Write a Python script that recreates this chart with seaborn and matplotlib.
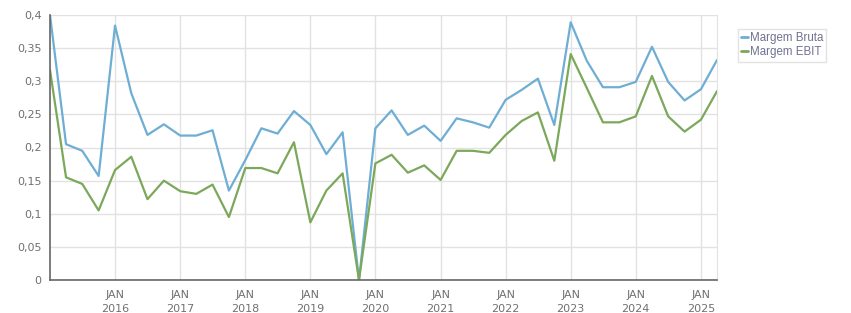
import matplotlib
matplotlib.use("Agg")
import matplotlib.pyplot as plt
import matplotlib.dates as mdates
from matplotlib.ticker import FuncFormatter, FixedLocator
import seaborn as sns
import pandas as pd

dates = pd.date_range("2015-01-01", periods=42, freq="QS")
year_ticks = pd.date_range("2016-01-01", "2025-01-01", freq="YS")

margem_bruta = [0.400, 0.205, 0.195, 0.157, 0.384, 0.282, 0.219, 0.235,
                0.218, 0.218, 0.226, 0.135, 0.181, 0.229, 0.221, 0.255,
                0.234, 0.190, 0.223, 0.000, 0.229, 0.256, 0.219, 0.233,
                0.210, 0.244, 0.238, 0.230, 0.272, 0.287, 0.304, 0.234,
                0.389, 0.331, 0.291, 0.291, 0.299, 0.352, 0.299, 0.271,
                0.288, 0.332]
margem_ebit = [0.317, 0.155, 0.145, 0.105, 0.166, 0.186, 0.122, 0.150,
               0.134, 0.130, 0.144, 0.095, 0.169, 0.169, 0.161, 0.208,
               0.087, 0.135, 0.161, 0.000, 0.176, 0.189, 0.162, 0.173,
               0.151, 0.195, 0.195, 0.192, 0.219, 0.240, 0.253, 0.180,
               0.341, 0.290, 0.238, 0.238, 0.247, 0.308, 0.247, 0.224,
               0.242, 0.285]
series_names = ["Margem Bruta", "Margem EBIT"]
colors = ["#6FAED4", "#7BA85B"]
y_ticks = [0, 0.05, 0.1, 0.15, 0.2, 0.25, 0.3, 0.35, 0.4]

df = pd.concat([
    pd.DataFrame({"date": dates, "value": margem_bruta, "serie": series_names[0]}),
    pd.DataFrame({"date": dates, "value": margem_ebit, "serie": series_names[1]}),
])

sns.set_style("white")
plt.rcParams["font.family"] = ["DejaVu Sans"]

fig = plt.figure(figsize=(8.51, 3.13), dpi=100)
ax = fig.add_axes([50/851, 33/313, 667/851, 265/313])

sns.lineplot(data=df, x="date", y="value", hue="serie", palette=colors,
             linewidth=1.6, ax=ax, legend=False)

ax.set_xlim(dates[0], dates[-1])
ax.set_ylim(0, 0.4)
ax.yaxis.set_major_locator(FixedLocator(y_ticks))

def yfmt(v, pos):
    s = ("%.2f" % v).rstrip("0").rstrip(".")
    return s.replace(".", ",")

ax.yaxis.set_major_formatter(FuncFormatter(yfmt))
ax.set_xticks(mdates.date2num(year_ticks))
ax.set_xticklabels(["JAN\n" + str(d.year) for d in year_ticks])

ax.grid(True, color="#e2e2e2", linewidth=1)
ax.set_axisbelow(True)
ax.set_xlabel("")
ax.set_ylabel("")
ax.spines["top"].set_visible(False)
ax.spines["right"].set_color("#e2e2e2")
ax.spines["left"].set_color("#666666")
ax.spines["bottom"].set_color("#666666")
ax.spines["left"].set_linewidth(1.2)
ax.spines["bottom"].set_linewidth(1.2)
ax.tick_params(axis="both", colors="#666666", labelcolor="#707070",
               labelsize=8, length=4, width=1, direction="out")
ax.tick_params(axis="x", pad=3)
ax.tick_params(axis="y", pad=2)
for lbl in ax.get_xticklabels():
    lbl.set_linespacing(1.5)

handles = [plt.Line2D([], [], color=c, linewidth=2) for c in colors]
leg = fig.legend(handles, series_names, loc="upper left",
                 bbox_to_anchor=(738/851, 1 - 29/313),
                 prop={"family": "Liberation Sans", "size": 8.3},
                 frameon=True, fancybox=False, handlelength=0.55,
                 handletextpad=0.15, borderpad=0.3, labelspacing=0.15,
                 borderaxespad=0)
leg.get_frame().set_edgecolor("#dddddd")
leg.get_frame().set_linewidth(1)
for t in leg.get_texts():
    t.set_color("#707090")

fig.savefig("out.png", dpi=100)
